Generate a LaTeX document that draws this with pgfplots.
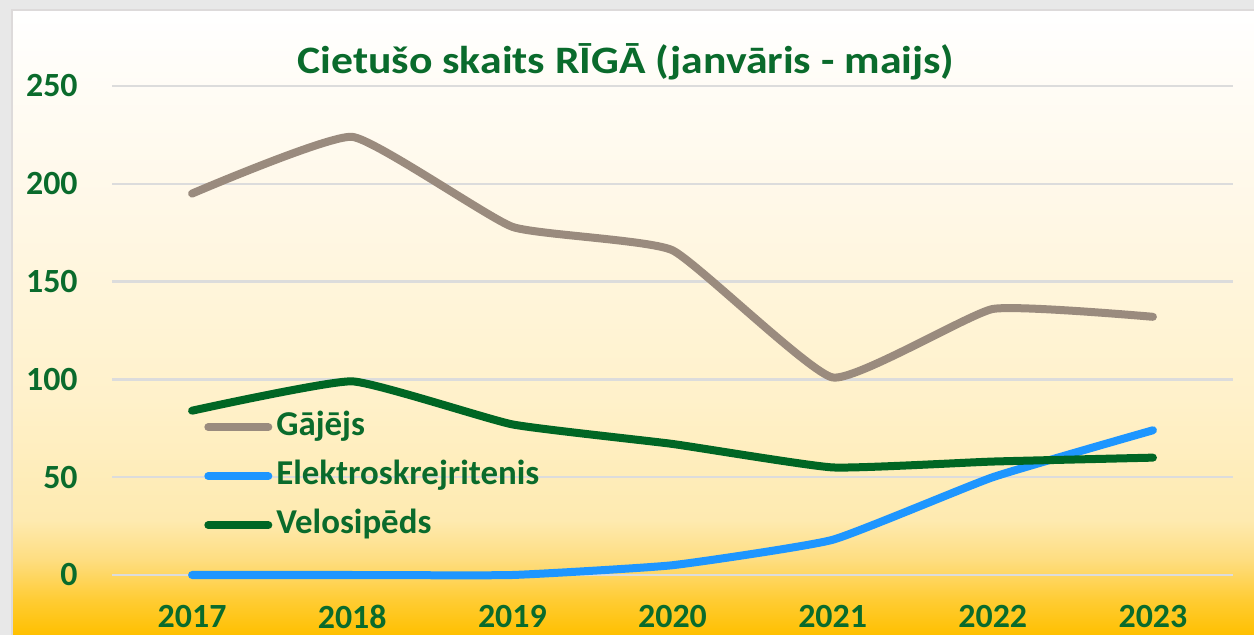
\documentclass[border=0pt]{standalone}
\usepackage{fontspec}
\setmainfont{Carlito}
\usepackage{pgfplots}
\pgfplotsset{compat=1.18}
\definecolor{tgreen}{HTML}{0A6B2C}
\definecolor{lgreen}{HTML}{006624}
\definecolor{lgray}{HTML}{9A8B7E}
\definecolor{lblue}{HTML}{1E96FF}
\definecolor{gridc}{HTML}{DCDCDC}
\definecolor{outerc}{HTML}{E8E8E8}
\definecolor{edgec}{HTML}{DDDADA}
\definecolor{s0}{HTML}{FFC000}
\definecolor{s1}{HTML}{FFCC33}
\definecolor{s2}{HTML}{FEDD80}
\definecolor{s3}{HTML}{FEEAB0}
\definecolor{s4}{HTML}{FFF1CA}
\definecolor{s5}{HTML}{FFF8E8}
\definecolor{s6}{HTML}{FFFFFF}
\pgfdeclareverticalshading{bgshade}{100bp}{color(0bp)=(s0); color(25bp)=(s0); color(27.8bp)=(s1); color(31bp)=(s2); color(34.2bp)=(s3); color(43.8bp)=(s4); color(59.8bp)=(s5); color(75bp)=(s6); color(100bp)=(s6)}
\begin{document}
\begin{tikzpicture}
\fill[outerc] (0,0) rectangle (627bp,317.5bp);
\shade[shading=bgshade] (6bp,0) rectangle (627bp,312.5bp);
\draw[edgec, line width=1bp] (6bp,0) -- (6bp,312.5bp) -- (627bp,312.5bp);
\node[font=\bfseries\fontsize{19.5}{22}\selectfont, text=tgreen, xscale=1.125] at (313bp,286.5bp) {Cietušo skaits RĪGĀ (janvāris - maijs)};
\begin{axis}[
  at={(56bp,30bp)}, anchor=south west,
  scale only axis, width=560.5bp, height=244.5bp,
  xmin=-0.5, xmax=6.5, ymin=0, ymax=250,
  xtick={0,...,6}, xticklabels={2017,2018,2019,2020,2021,2022,2023},
  ytick={0,50,...,250},
  /pgf/number format/assume math mode=true,
  axis line style={draw=none},
  major tick length=0pt,
  ymajorgrids, grid style={gridc, line width=1.2bp},
  clip=false,
  tick label style={font=\bfseries\fontsize{17}{20}\selectfont, text=tgreen, inner sep=0pt},
  yticklabel style={anchor=east, xshift=-17bp},
  xticklabel style={anchor=north, yshift=-15bp},
  legend image code/.code={\draw[#1] (0bp,0bp) -- (30bp,0bp);},
  legend cell align=left,
  legend style={draw=none, fill=none, inner sep=0pt, at={(0.082,0.336)}, anchor=north west,
     font=\bfseries\fontsize{17.5}{20}\selectfont, text=tgreen, column sep=2bp, row sep=8.5bp,
     nodes={inner sep=0pt, text height=12bp, text depth=4bp}},
  every axis plot/.append style={line width=4bp, line cap=round, line join=round, smooth, tension=0.25},
]
\addplot[lgray] coordinates {(0,195) (1,224) (2,178) (3,166) (4,101) (5,136) (6,132)};
\addlegendentry{Gājējs}
\addplot[lblue] coordinates {(0,0) (1,0) (2,0) (3,5) (4,18) (5,50) (6,74)};
\addlegendentry{Elektroskrejritenis}
\addplot[lgreen] coordinates {(0,84) (1,99) (2,77) (3,67) (4,55) (5,58) (6,60)};
\addlegendentry{Velosipēds}
\end{axis}
\pgfresetboundingbox
\useasboundingbox (0,0) rectangle (627bp,317.5bp);
\end{tikzpicture}
\end{document}
